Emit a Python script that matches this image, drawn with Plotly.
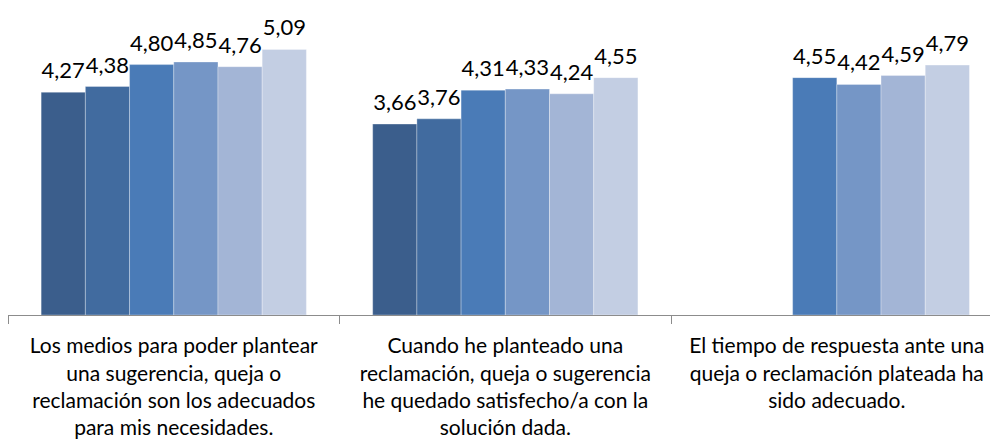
import plotly.graph_objects as go

categories = [
    "Los medios para poder plantear<br>una sugerencia, queja o<br>reclamación son los adecuados<br>para mis necesidades.",
    "Cuando he planteado una<br>reclamación, queja o sugerencia<br>he quedado satisfecho/a con la<br>solución dada.",
    "El tiempo de respuesta ante una<br>queja o reclamación plateada ha<br>sido adecuado.",
]
series_names = ["Serie 1", "Serie 2", "Serie 3", "Serie 4", "Serie 5", "Serie 6"]
serie1 = [4.27, 3.66, None]
serie2 = [4.38, 3.76, None]
serie3 = [4.80, 4.31, 4.55]
serie4 = [4.85, 4.33, 4.42]
serie5 = [4.76, 4.24, 4.59]
serie6 = [5.09, 4.55, 4.79]
all_series = [serie1, serie2, serie3, serie4, serie5, serie6]
colors = ["#3B5E8C", "#416B9F", "#4A7BB7", "#7596C6", "#A3B5D6", "#C3CEE3"]

FONT = "Lato, 'Liberation Sans', sans-serif"

fig = go.Figure()
for i, (name, vals) in enumerate(zip(series_names, all_series)):
    fig.add_trace(go.Bar(
        x=categories, y=vals, name=name,
        marker=dict(color=colors[i], line=dict(color="rgba(255,255,255,0.3)", width=1)),
        offsetgroup=str(i), showlegend=False, hoverinfo="skip",
    ))
for i, (name, vals) in enumerate(zip(series_names, all_series)):
    fig.add_trace(go.Scatter(
        x=categories, y=vals, mode="markers+text",
        marker=dict(size=12, opacity=0),
        texttemplate="%{y:.2f}", textposition="top center",
        textfont=dict(family=FONT, size=22, color="#000000"),
        offsetgroup=str(i), showlegend=False, hoverinfo="skip", cliponaxis=False,
    ))

fig.update_layout(
    width=990, height=443,
    margin=dict(l=8, r=0, t=2, b=128, autoexpand=False),
    paper_bgcolor="white", plot_bgcolor="white",
    barmode="group", bargap=0.2, bargroupgap=0,
    scattermode="group", scattergap=0.2,
    separators=",.",
    showlegend=False,
    font=dict(family=FONT, color="#000000"),
)
fig.update_xaxes(
    type="category", range=[-0.5, 2.462], automargin=False,
    showline=True, linecolor="#8C8C8C", linewidth=1,
    ticks="outside", tickson="boundaries", ticklen=8, tickcolor="#8C8C8C", tickwidth=1,
    tickfont=dict(family=FONT, size=21, color="#000000"),
    ticklabelstandoff=12,
    showgrid=False,
)
fig.update_yaxes(range=[0, 6], visible=False, showgrid=False, automargin=False)

fig.write_html("out.html", config={"displayModeBar": False},
               post_script="document.body.style.margin='0';")
